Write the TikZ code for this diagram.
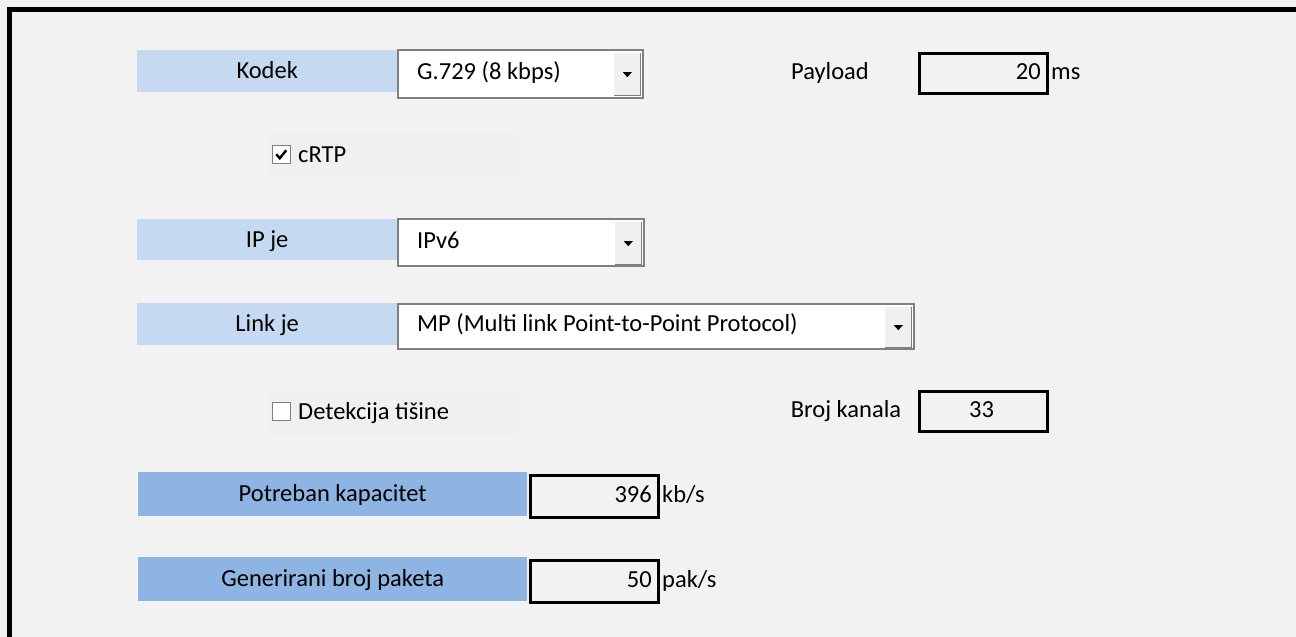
\documentclass[tikz,border=0pt]{standalone}
\usepackage{fontspec}
\setmainfont{Carlito}
\usetikzlibrary{calc}
\definecolor{sheetgray}{HTML}{F2F2F2}
\definecolor{panelgray}{HTML}{F0F0F0}
\definecolor{lightblue}{HTML}{C5D9F1}
\definecolor{darkblue}{HTML}{8DB4E2}
\definecolor{framegray}{HTML}{7F7F7F}
\newcommand{\dropbtn}[1]{%
	\draw[framegray, line width=1.5] (#1.north east) -- (#1.south east) -- (#1.south west);
	\fill ($(#1.center)+(-4.5,-2)$) -- ++(9,0) -- ++(-4.5,5) -- cycle;}
\tikzset{
	every node/.style={font=\fontsize{24.5}{29}\selectfont, inner sep=0pt, text height=15.5, text depth=0},
	label box/.style={fill=lightblue, anchor=north west, minimum width=260, minimum height=42},
	result box/.style={fill=darkblue, anchor=north west, minimum width=389, minimum height=44},
	drop box/.style={fill=white, draw=framegray, line width=2, anchor=north west},
	drop btn/.style={fill=panelgray, anchor=north east, minimum width=26, minimum height=42},
	value box/.style={draw=black, line width=3, anchor=north west, minimum width=128, minimum height=40},
	tick box/.style={fill=white, draw=framegray, line width=1.5, minimum size=18, anchor=north west},
	form panel/.style={fill=panelgray, anchor=north west, minimum width=250, minimum height=45}
}
\begin{document}
\begin{tikzpicture}[x=1pt, y=-1pt]
	\fill[sheetgray] (0,0) rectangle (1296,637);
	\useasboundingbox (0,0) rectangle (1296,637);
	\draw[line width=4.5] (9.5,640) -- (9.5,9.5) -- (1300,9.5);

		\node[label box] (kodek) at (137,50) {Kodek};
		\node[drop box, minimum width=245, minimum height=48] (kodekdrop) at (397,49) {};
		\node[drop btn] (kodekbtn) at (640.5,53) {};
		\dropbtn{kodekbtn}
		\node[anchor=west] (kodekval) at (417,72) {G.729 (8 kbps)};

		\node (payload) at (830,71.5) {Payload};
		\node[value box] (payloadbox) at (917.5,51.5) {};
		\node[anchor=east] (payloadval) at (1041,71.5) {20};
		\node[anchor=west] (payloadunit) at (1051,71.5) {ms};

		\node[form panel] (crtppanel) at (268,133) {};
		\node[tick box] (crtpbox) at (271.5,144.5) {};
		\draw[line width=2.4] ($(crtpbox.center)+(-5,0)$) -- ++(3.5,4) -- ++(6.5,-8);
		\node[anchor=west] (crtp) at (298,155) {cRTP};

		\node[label box, minimum height=41] (ip) at (137,219) {IP je};
		\node[drop box, minimum width=246, minimum height=47] (ipdrop) at (397,218) {};
		\node[drop btn] (ipbtn) at (641.5,222) {};
		\dropbtn{ipbtn}
		\node[anchor=west] (ipval) at (417,241) {IPv6};

		\node[label box] (link) at (137,303) {Link je};
		\node[drop box, minimum width=516, minimum height=45] (linkdrop) at (397,303) {};
		\node[drop btn, minimum height=40] (linkbtn) at (911.5,307) {};
		\dropbtn{linkbtn}
		\node[anchor=west] (linkval) at (417,324) {MP (Multi link Point-to-Point Protocol)};

		\node[form panel] (tisinapanel) at (268,390) {};
		\node[tick box] (tisinabox) at (271.5,401.5) {};
		\node[anchor=west] (tisina) at (298,412) {Detekcija tišine};

		\node (kanali) at (846,410) {Broj kanala};
		\node[value box] (kanalibox) at (917.5,389.5) {};
		\node (kanalival) at (981.5,409.5) {33};

		\node[result box] (kapacitet) at (138,472) {Potreban kapacitet};
		\node[value box, minimum height=42] (kapacitetbox) at (528.5,473.5) {};
		\node[anchor=east] (kapacitetval) at (652,494.5) {396};
		\node[anchor=west] (kapacitetunit) at (662,494.5) {kb/s};

		\node[result box] (paketi) at (138,557) {Generirani broj paketa};
		\node[value box, minimum height=42] (paketibox) at (528.5,558.5) {};
		\node[anchor=east] (paketival) at (652,579.5) {50};
		\node[anchor=west] (paketiunit) at (662,579.5) {pak/s};
\end{tikzpicture}
\end{document}
